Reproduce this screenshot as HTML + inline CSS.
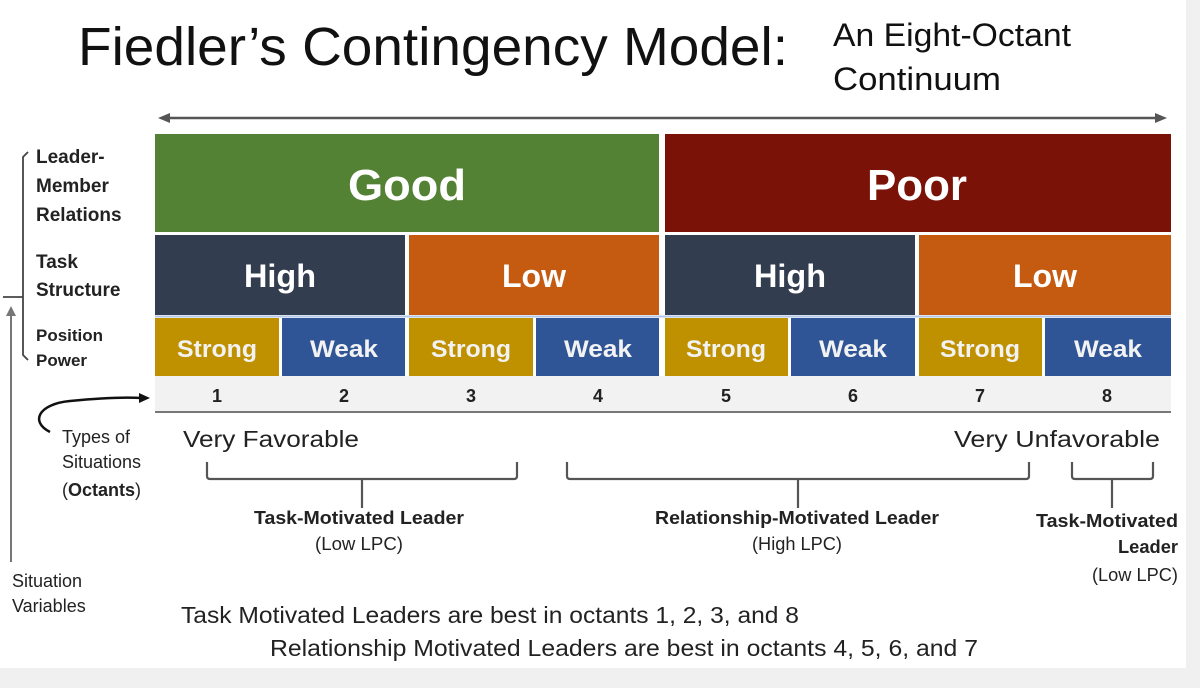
<!DOCTYPE html>
<html><head><meta charset="utf-8"><style>
html,body{margin:0;padding:0;background:#f0f0f0;}
svg{display:block;font-family:"Liberation Sans",sans-serif;}
</style></head><body>
<svg width="1200" height="688" viewBox="0 0 1200 688" xmlns="http://www.w3.org/2000/svg">
<rect x="0" y="0" width="1186" height="668" fill="#fff"/>
<text x="78" y="65" font-size="54" fill="#111" textLength="710" lengthAdjust="spacingAndGlyphs">Fiedler’s Contingency Model:</text>
<text x="833" y="46" font-size="32" fill="#111" textLength="238" lengthAdjust="spacingAndGlyphs">An Eight-Octant</text>
<text x="833" y="90" font-size="32" fill="#111" textLength="168" lengthAdjust="spacingAndGlyphs">Continuum</text>
<line x1="162" y1="118" x2="1163" y2="118" stroke="#555" stroke-width="2.5"/>
<polygon points="158,118 170,113 170,123" fill="#555"/>
<polygon points="1167,118 1155,113 1155,123" fill="#555"/>
<rect x="155" y="134" width="504" height="98" fill="#548235"/>
<rect x="665" y="134" width="506" height="98" fill="#7b1207"/>
<text x="407" y="200" font-size="44" font-weight="bold" fill="#fff" text-anchor="middle" textLength="118" lengthAdjust="spacingAndGlyphs">Good</text>
<text x="917" y="200" font-size="44" font-weight="bold" fill="#fff" text-anchor="middle" textLength="100" lengthAdjust="spacingAndGlyphs">Poor</text>
<rect x="155" y="235" width="250" height="80" fill="#323d4f"/>
<rect x="409" y="235" width="250" height="80" fill="#c55a11"/>
<rect x="665" y="235" width="250" height="80" fill="#323d4f"/>
<rect x="919" y="235" width="252" height="80" fill="#c55a11"/>
<g font-size="32" font-weight="bold" fill="#fff" text-anchor="middle">
<text x="280" y="287" textLength="72" lengthAdjust="spacingAndGlyphs">High</text><text x="534" y="287" textLength="64" lengthAdjust="spacingAndGlyphs">Low</text>
<text x="790" y="287" textLength="72" lengthAdjust="spacingAndGlyphs">High</text><text x="1045" y="287" textLength="64" lengthAdjust="spacingAndGlyphs">Low</text>
</g>
<line x1="155" y1="316.5" x2="1171" y2="316.5" stroke="#b4c7e7" stroke-width="2"/>
<g>
<rect x="155" y="318" width="124" height="58" fill="#bf9000"/>
<rect x="282" y="318" width="123" height="58" fill="#2f5597"/>
<rect x="409" y="318" width="124" height="58" fill="#bf9000"/>
<rect x="536" y="318" width="123" height="58" fill="#2f5597"/>
<rect x="665" y="318" width="123" height="58" fill="#bf9000"/>
<rect x="791" y="318" width="124" height="58" fill="#2f5597"/>
<rect x="919" y="318" width="123" height="58" fill="#bf9000"/>
<rect x="1045" y="318" width="126" height="58" fill="#2f5597"/>
</g>
<g font-size="24" font-weight="bold" fill="#f2f2f2" text-anchor="middle">
<text x="217" y="357" textLength="80" lengthAdjust="spacingAndGlyphs">Strong</text><text x="344" y="357" textLength="68" lengthAdjust="spacingAndGlyphs">Weak</text>
<text x="471" y="357" textLength="80" lengthAdjust="spacingAndGlyphs">Strong</text><text x="598" y="357" textLength="68" lengthAdjust="spacingAndGlyphs">Weak</text>
<text x="726" y="357" textLength="80" lengthAdjust="spacingAndGlyphs">Strong</text><text x="853" y="357" textLength="68" lengthAdjust="spacingAndGlyphs">Weak</text>
<text x="980" y="357" textLength="80" lengthAdjust="spacingAndGlyphs">Strong</text><text x="1108" y="357" textLength="68" lengthAdjust="spacingAndGlyphs">Weak</text>
</g>
<rect x="155" y="376" width="1016" height="35" fill="#f2f2f2"/>
<line x1="155" y1="412" x2="1171" y2="412" stroke="#777" stroke-width="2"/>
<g font-size="18" font-weight="bold" fill="#222" text-anchor="middle">
<text x="217" y="402">1</text><text x="344" y="402">2</text><text x="471" y="402">3</text><text x="598" y="402">4</text>
<text x="726" y="402">5</text><text x="853" y="402">6</text><text x="980" y="402">7</text><text x="1107" y="402">8</text>
</g>
<g font-size="19" font-weight="bold" fill="#222">
<text x="36" y="163">Leader-</text><text x="36" y="192">Member</text><text x="36" y="221">Relations</text>
<text x="36" y="268">Task</text><text x="36" y="296">Structure</text>
<text x="36" y="341" font-size="17">Position</text><text x="36" y="366" font-size="17">Power</text>
</g>
<path d="M28,152 L23,157 L23,355 L28,360" fill="none" stroke="#444" stroke-width="1.8"/>
<line x1="3" y1="297" x2="23" y2="297" stroke="#444" stroke-width="1.8"/>
<line x1="11" y1="562" x2="11" y2="312" stroke="#777" stroke-width="2"/>
<polygon points="11,306 6,316 16,316" fill="#777"/>
<text x="12" y="587" font-size="18" fill="#222">Situation</text>
<text x="12" y="612" font-size="18" fill="#222">Variables</text>
<path d="M50,432 C30,422 38,404 70,401 C100,398 125,397 142,398" fill="none" stroke="#111" stroke-width="2.5"/>
<polygon points="150,398 139,393 139,403" fill="#111"/>
<g font-size="18" fill="#222">
<text x="62" y="443">Types of</text><text x="62" y="468">Situations</text><text x="62" y="496">(<tspan font-weight="bold">Octants</tspan>)</text>
</g>
<text x="183" y="447" font-size="23" fill="#222" textLength="176" lengthAdjust="spacingAndGlyphs">Very Favorable</text>
<text x="1160" y="447" font-size="23" fill="#222" text-anchor="end" textLength="206" lengthAdjust="spacingAndGlyphs">Very Unfavorable</text>
<g fill="none" stroke="#555" stroke-width="2.2">
<path d="M207,462 V476 Q207,479 210,479 H514 Q517,479 517,476 V462"/>
<line x1="362" y1="479" x2="362" y2="508"/>
<path d="M567,462 V476 Q567,479 570,479 H1026 Q1029,479 1029,476 V462"/>
<line x1="798" y1="479" x2="798" y2="508"/>
<path d="M1072,462 V476 Q1072,479 1075,479 H1150 Q1153,479 1153,476 V462"/>
<line x1="1112" y1="479" x2="1112" y2="508"/>
</g>
<g font-size="18" fill="#222" text-anchor="middle">
<text x="359" y="524" font-weight="bold" textLength="210" lengthAdjust="spacingAndGlyphs">Task-Motivated Leader</text>
<text x="359" y="550" textLength="88" lengthAdjust="spacingAndGlyphs">(Low LPC)</text>
<text x="797" y="524" font-weight="bold" textLength="284" lengthAdjust="spacingAndGlyphs">Relationship-Motivated Leader</text>
<text x="797" y="550" textLength="90" lengthAdjust="spacingAndGlyphs">(High LPC)</text>
</g>
<g font-size="18" fill="#222" text-anchor="end">
<text x="1178" y="527" font-weight="bold" textLength="142" lengthAdjust="spacingAndGlyphs">Task-Motivated</text>
<text x="1178" y="553" font-weight="bold" textLength="60" lengthAdjust="spacingAndGlyphs">Leader</text>
<text x="1178" y="581" textLength="86" lengthAdjust="spacingAndGlyphs">(Low LPC)</text>
</g>
<text x="181" y="623" font-size="23" fill="#222" textLength="618" lengthAdjust="spacingAndGlyphs">Task Motivated Leaders are best in octants 1, 2, 3, and 8</text>
<text x="270" y="656" font-size="23" fill="#222" textLength="708" lengthAdjust="spacingAndGlyphs">Relationship Motivated Leaders are best in octants 4, 5, 6, and 7</text>
</svg>
</body></html>
